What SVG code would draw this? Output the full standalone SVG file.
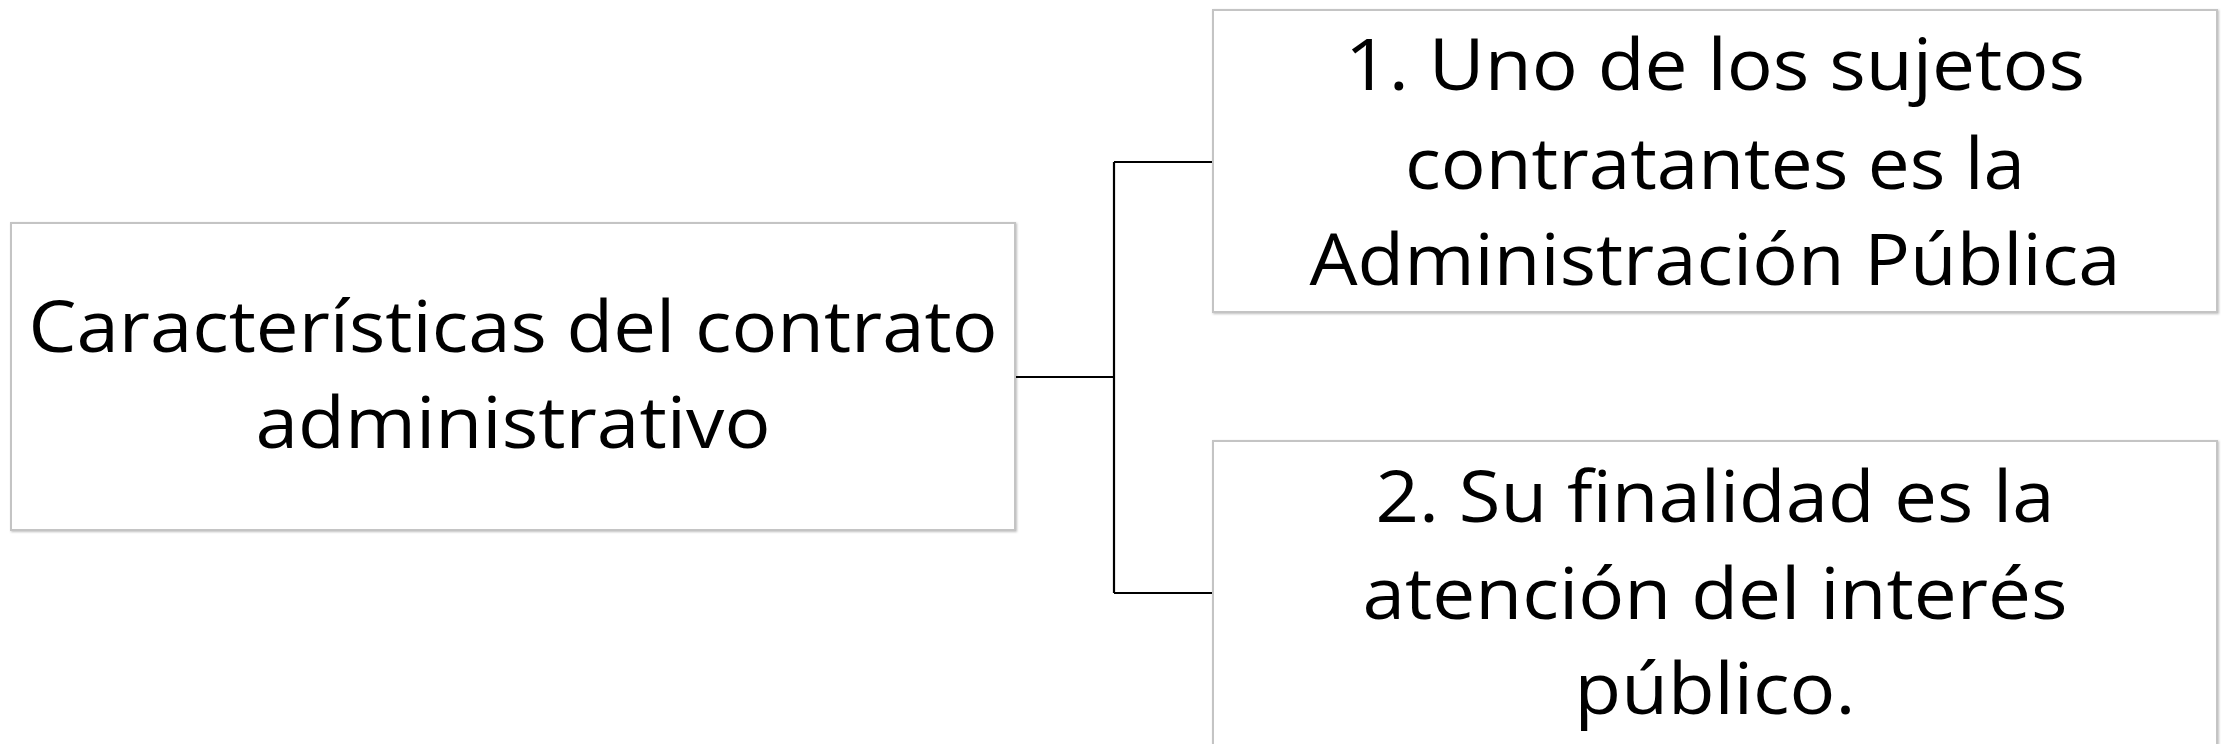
<svg xmlns="http://www.w3.org/2000/svg" width="2224" height="744" viewBox="0 0 2224 744">
<defs>
<filter id="sh" x="-5%" y="-5%" width="110%" height="110%">
<feDropShadow dx="1" dy="1" stdDeviation="1.2" flood-color="#000" flood-opacity="0.25"/>
</filter>
</defs>
<style>
.box{fill:#fff;stroke:#c4c4c4;stroke-width:2;filter:url(#sh)}
.t{font-family:"Open Sans","Noto Sans",sans-serif;font-size:72px;fill:#000;text-anchor:middle}
.c{fill:none;stroke:#000;stroke-width:2.2}
</style>
<rect width="2224" height="744" fill="#fff"/>
<g id="connectors">
<path class="c" d="M1015 377 H1114 M1114 162 V593 M1114 162 H1213 M1114 593 H1213"/>
</g>
<g id="root">
<rect class="box" x="11" y="223" width="1004" height="307"/>
<text class="t" x="513" y="352" textLength="969" lengthAdjust="spacingAndGlyphs">Características del contrato</text>
<text class="t" x="513" y="448" textLength="515" lengthAdjust="spacingAndGlyphs">administrativo</text>
</g>
<g id="node1">
<rect class="box" x="1213" y="10" width="1004" height="302"/>
<text class="t" x="1715" y="90" textLength="740" lengthAdjust="spacingAndGlyphs">1. Uno de los sujetos</text>
<text class="t" x="1715" y="189" textLength="620" lengthAdjust="spacingAndGlyphs">contratantes es la</text>
<text class="t" x="1715" y="285" textLength="811" lengthAdjust="spacingAndGlyphs">Administración Pública</text>
</g>
<g id="node2">
<rect class="box" x="1213" y="441" width="1004" height="310"/>
<text class="t" x="1715" y="522" textLength="679" lengthAdjust="spacingAndGlyphs">2. Su finalidad es la</text>
<text class="t" x="1715" y="619" textLength="705" lengthAdjust="spacingAndGlyphs">atención del interés</text>
<text class="t" x="1715" y="714" textLength="281" lengthAdjust="spacingAndGlyphs">público.</text>
</g>
</svg>
